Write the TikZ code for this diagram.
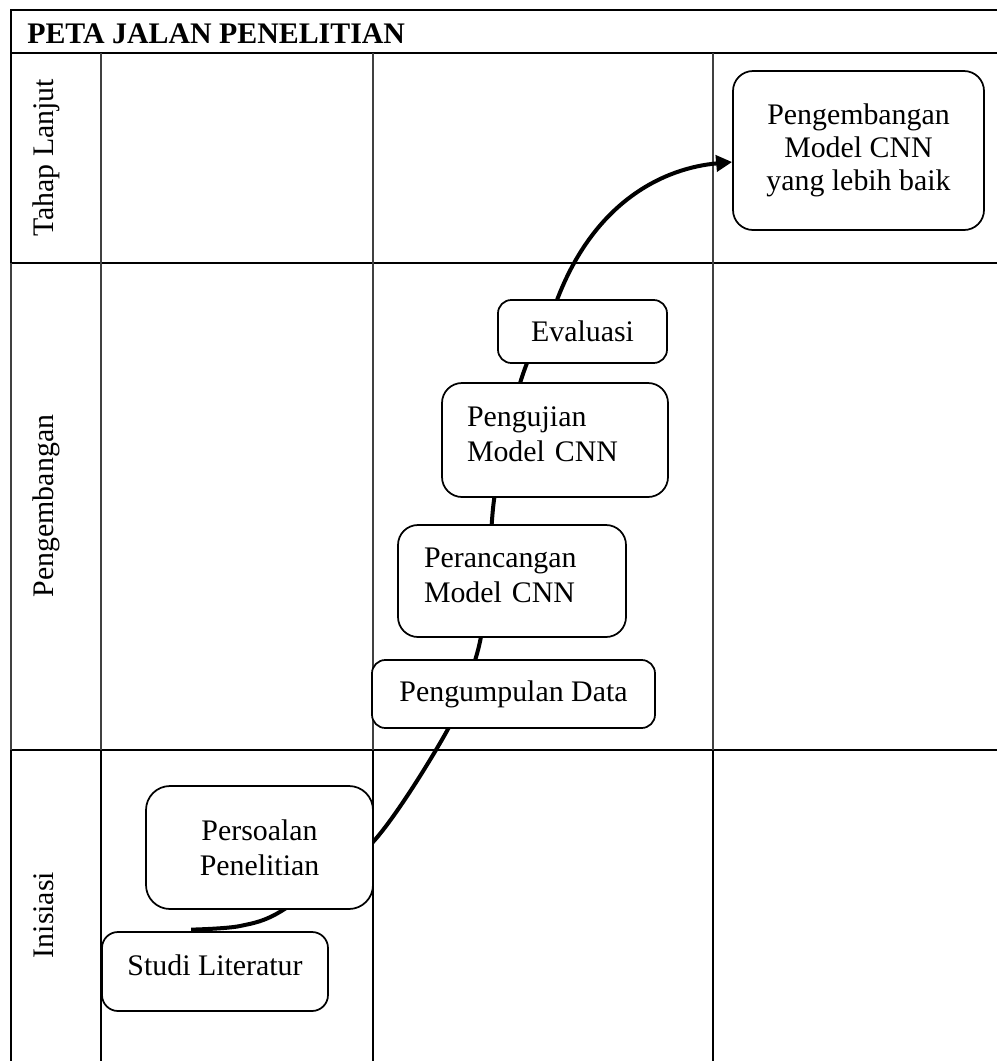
\documentclass[tikz,border=0pt]{standalone}
\usepackage{fontspec}
\setmainfont{Liberation Serif}
\usetikzlibrary{arrows.meta,backgrounds,calc}
\begin{document}
\begin{tikzpicture}[x=0.75pt,y=-0.75pt,
  hline/.style={line width=1.5pt},
  vthin/.style={line width=0.8pt, black!75},
  vthick/.style={line width=1.2pt},
  box/.style={draw, line width=1.3pt, fill=white, inner sep=0pt, font=\fontsize{22.4pt}{26pt}\selectfont},
  lbl/.style={font=\fontsize{22.4pt}{26pt}\selectfont, inner sep=0pt},
  flow/.style={line width=3pt, -{Triangle[length=12pt,width=12pt]}}]
\useasboundingbox (0,0) rectangle (997,1061);

% title and row labels
\node[lbl, font=\fontsize{22.4pt}{26pt}\selectfont\bfseries, anchor=base west] (title) at (27,43) {PETA JALAN PENELITIAN};
\node[lbl, rotate=90, anchor=base] (lt) at (53,158) {Tahap Lanjut};
\node[lbl, rotate=90, anchor=base] (lp) at (53,506) {Pengembangan};
\node[lbl, rotate=90, anchor=base] (li) at (53,915) {Inisiasi};

% boxes
\node[box, rounded corners=15pt, minimum width=188.25pt, minimum height=119.25pt, align=center, font=\fontsize{22.4pt}{25pt}\selectfont] (pb) at (858.5,150.5) {Pengembangan\\Model CNN\\yang lebih baik};
\node[box, rounded corners=10pt, minimum width=126.75pt, minimum height=47.25pt] (ev) at (582.5,331.5) {Evaluasi};
\node[box, rounded corners=15pt, minimum width=169.5pt, minimum height=85.5pt, text width=132pt, align=left] (pj) at (555,440) {Pengujian\\Model CNN\rule[-9pt]{0pt}{9pt}};
\node[box, rounded corners=15pt, minimum width=171pt, minimum height=84pt, text width=132pt, align=left] (pr) at (512,581) {Perancangan\\Model CNN\rule[-9pt]{0pt}{9pt}};
\node[box, rounded corners=10pt, minimum width=212.25pt, minimum height=51pt] (pd) at (513.5,694) {Pengumpulan Data};
\node[box, rounded corners=18pt, minimum width=170.25pt, minimum height=92.25pt, align=center] (ps) at (259.5,847.5) {Persoalan\\Penelitian};
\node[box, rounded corners=12pt, minimum width=169.5pt, minimum height=59.25pt] (st) at (215,971.5) {Studi Literatur\rule[-10pt]{0pt}{10pt}};

\coordinate (c0) at ($(st.north west)+(90,-1.5)$);
\coordinate (cend) at ($(pb.west)+(0,11.5)$);

\begin{scope}[on background layer]
  \draw[hline] (11,10) -- (997,10);
  \draw[hline] (11,53) -- (997,53);
  \draw[hline] (11,263) -- (997,263);
  \draw[hline] (11,750) -- (997,750);
  \draw[hline] (11,9) -- (11,263);
  \draw[vthin] (11,263) -- (11,750);
  \draw[hline] (11,750) -- (11,1061);
  \foreach \x in {101,373,713} {
    \draw[vthin] (\x,53) -- (\x,750);
    \draw[vthick] (\x,750) -- (\x,1061);
  }
  \draw[flow] plot[smooth, tension=0.5] coordinates {(c0) (240,926) (283,910) (373,842) (448,729) (478,650) (488,580) (494,500) (510,420) (527,363) (557,300)}
    .. controls (595,200) and (665,168) .. (cend);
\end{scope}
\end{tikzpicture}
\end{document}
